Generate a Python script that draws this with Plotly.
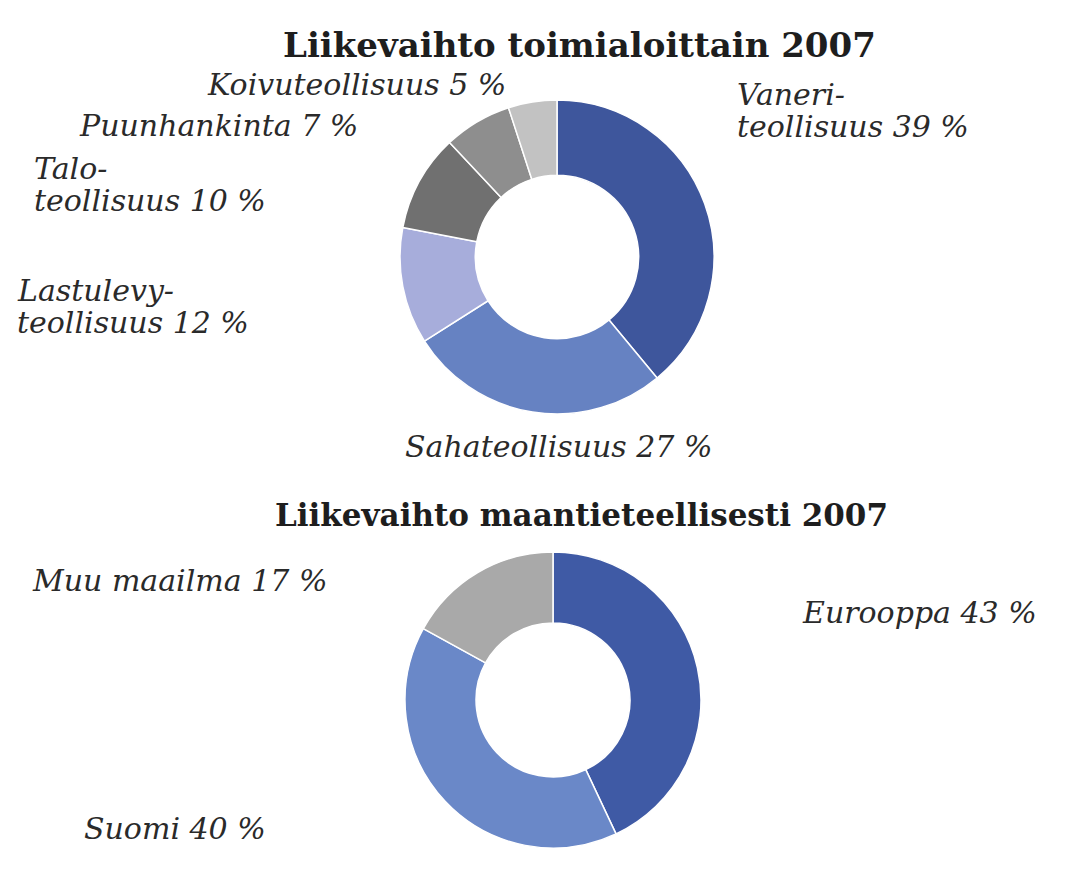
import plotly.graph_objects as go

W, H = 1076, 881

# Data
sector_labels = ["Vaneriteollisuus", "Sahateollisuus", "Lastulevyteollisuus",
                 "Taloteollisuus", "Puunhankinta", "Koivuteollisuus"]
sector_values = [39, 27, 12, 10, 7, 5]
sector_colors = ["#3e569c", "#6682c2", "#a7addb", "#707070", "#8e8e8e", "#c2c2c2"]
sector_text = [["Vaneri-", "teollisuus 39 %"], ["Sahateollisuus 27 %"],
               ["Lastulevy-", "teollisuus 12 %"], ["Talo-", "teollisuus 10 %"],
               ["Puunhankinta 7 %"], ["Koivuteollisuus 5 %"]]

geo_labels = ["Eurooppa", "Suomi", "Muu maailma"]
geo_values = [43, 40, 17]
geo_colors = ["#3f5aa5", "#6a88c8", "#a9a9a9"]
geo_text = [["Eurooppa 43 %"], ["Suomi 40 %"], ["Muu maailma 17 %"]]

title1 = "Liikevaihto toimialoittain 2007"
title2 = "Liikevaihto maantieteellisesti 2007"


def px(x):
    return x / W


def py(y):
    return 1 - y / H


fig = go.Figure()

fig.add_trace(go.Pie(
    labels=sector_labels, values=sector_values, hole=0.52, sort=False,
    direction="clockwise", rotation=0, textinfo="none", showlegend=False,
    marker=dict(colors=sector_colors, line=dict(color="white", width=1.5)),
    domain=dict(x=[px(557 - 157), px(557 + 157)], y=[py(257 + 157), py(257 - 157)]),
))

fig.add_trace(go.Pie(
    labels=geo_labels, values=geo_values, hole=0.52, sort=False,
    direction="clockwise", rotation=0, textinfo="none", showlegend=False,
    marker=dict(colors=geo_colors, line=dict(color="white", width=1.5)),
    domain=dict(x=[px(553 - 148), px(553 + 148)], y=[py(700 + 148), py(700 - 148)]),
))

label_font = dict(family="DejaVu Serif", size=30, color="#2a2a2a", style="italic")
title1_font = dict(family="DejaVu Serif", size=34, color="#1e1e1e", weight="bold")
title2_font = dict(family="DejaVu Serif", size=31, color="#1e1e1e", weight="bold")

# positions of label blocks (left x, center y of first line, in pixels)
sector_pos = [(735, 95), (403, 447), (15, 290), (32, 168), (77, 125), (205, 84)]
geo_pos = [(800, 612), (82, 828), (30, 580)]
line_gap = 32

annotations = []
for lines, (x, y) in list(zip(sector_text, sector_pos)) + list(zip(geo_text, geo_pos)):
    for i, t in enumerate(lines):
        annotations.append(dict(text=t, x=px(x), y=py(y + i * line_gap),
                                xref="paper", yref="paper",
                                xanchor="left", yanchor="middle", align="left",
                                showarrow=False, font=label_font))
annotations.append(dict(text=title1, x=px(579), y=py(45), xref="paper", yref="paper",
                        xanchor="center", yanchor="middle", showarrow=False, font=title1_font))
annotations.append(dict(text=title2, x=px(581), y=py(515), xref="paper", yref="paper",
                        xanchor="center", yanchor="middle", showarrow=False, font=title2_font))

fig.update_layout(
    width=W, height=H, margin=dict(l=0, r=0, t=0, b=0),
    paper_bgcolor="white", plot_bgcolor="white",
    annotations=annotations,
)

fig.write_html("out.html")
